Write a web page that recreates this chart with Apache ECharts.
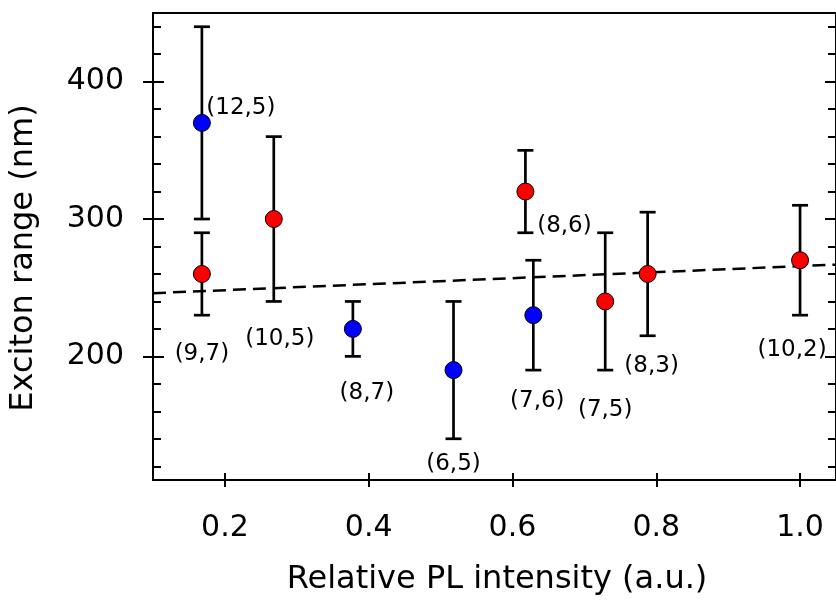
<!DOCTYPE html>
<html>
<head>
<meta charset="utf-8">
<script src="https://cdn.jsdelivr.net/npm/echarts@6/dist/echarts.min.js"></script>
<style>
html,body{margin:0;padding:0;background:#fff;}
#chart{width:836px;height:601px;}
</style>
</head>
<body>
<div id="chart"></div>
<script>
// ---- data ----
const chirality = ['(12,5)', '(9,7)', '(10,5)', '(8,7)', '(6,5)', '(7,6)', '(8,6)', '(7,5)', '(8,3)', '(10,2)'];
const plIntensity = [0.168, 0.168, 0.268, 0.378, 0.518, 0.629, 0.618, 0.729, 0.788, 1.0];
const excitonRange = [370, 260, 300, 220, 190, 230, 320, 240, 260, 270];
const rangeError = [70, 30, 60, 20, 50, 40, 30, 50, 45, 40];
const family = ['mod1', 'mod2', 'mod2', 'mod1', 'mod1', 'mod1', 'mod2', 'mod2', 'mod2', 'mod2'];
const fitX = [0.1, 1.05];
const fitY = [246, 266.8];
const xTickValues = [0.2, 0.4, 0.6, 0.8, 1.0];
const yMajorValues = [200, 300, 400];
const yMinorValues = [120, 140, 160, 180, 220, 240, 260, 280, 320, 340, 360, 380, 420, 440];

// ---- layout of point labels (pixel offsets from marker centre) ----
const labelDx = [39, 0, 6, 14, 0, 4, 39, 0, 4, -8];
const labelDy = [-15, 80, 120, 64, 94, 86, 34, 109, 92, 90];

const FONT = 'DejaVu Sans';
const XMIN = 0.1, XMAX = 1.05, YMIN = 110, YMAX = 450;
const familyColor = { mod1: '#0000ff', mod2: '#ff0000' };

function pointsFor(fam) {
  const out = [];
  for (let i = 0; i < chirality.length; i++) {
    if (family[i] !== fam) continue;
    out.push({
      value: [plIntensity[i], excitonRange[i]],
      name: chirality[i],
      label: {
        show: true, position: 'inside', offset: [labelDx[i], labelDy[i]],
        formatter: chirality[i],
        fontSize: 23, fontFamily: FONT, color: '#000', align: 'center', verticalAlign: 'middle'
      }
    });
  }
  return out;
}

const errData = chirality.map((c, i) => [plIntensity[i], excitonRange[i] - rangeError[i], excitonRange[i] + rangeError[i]]);

const lineW = 2;
function xAx(extra) {
  return Object.assign({
    type: 'value', min: XMIN, max: XMAX, gridIndex: 0,
    splitLine: { show: false },
    axisLine: { show: true, onZero: false, lineStyle: { color: '#000', width: lineW } },
    axisTick: { show: false },
    axisLabel: { show: false }
  }, extra);
}
function yAx(extra) {
  return Object.assign({
    type: 'value', min: YMIN, max: YMAX, gridIndex: 0,
    splitLine: { show: false },
    axisLine: { show: true, onZero: false, lineStyle: { color: '#000', width: lineW } },
    axisTick: { show: false },
    axisLabel: { show: false }
  }, extra);
}

const option = {
  animation: false,
  backgroundColor: '#fff',
  grid: { left: 153, top: 13, right: -4, bottom: 115, containLabel: false },
  xAxis: [
    xAx({
      position: 'bottom',
      axisTick: { show: true, inside: false, length: 7, customValues: xTickValues, lineStyle: { color: '#000', width: 2 } },
      axisLabel: { show: true, customValues: xTickValues, margin: 33, fontSize: 30, fontFamily: FONT, color: '#000',
        formatter: v => Number(v).toFixed(1) },
      name: 'Relative PL intensity (a.u.)',
      nameLocation: 'middle',
      nameGap: 84,
      nameTextStyle: { fontSize: 32, fontFamily: FONT, color: '#000', padding: [0, 0, 0, 5] }
    }),
    xAx({
      position: 'bottom',
      axisTick: { show: true, inside: true, length: 7, customValues: xTickValues, lineStyle: { color: '#000', width: 2 } }
    }),
    xAx({ position: 'top' })
  ],
  yAxis: [
    yAx({
      position: 'left',
      axisTick: { show: true, inside: false, length: 10, customValues: yMajorValues, lineStyle: { color: '#000', width: 2 } },
      axisLabel: { show: true, customValues: yMajorValues, margin: 29, fontSize: 30, fontFamily: FONT, color: '#000',
        padding: [4, 0, 0, 0] },
      name: 'Exciton range (nm)',
      nameLocation: 'middle',
      nameGap: 113,
      nameTextStyle: { fontSize: 32, fontFamily: FONT, color: '#000', padding: [0, 23, 0, 0] }
    }),
    yAx({
      position: 'left',
      axisTick: { show: true, inside: true, length: 11, customValues: yMajorValues, lineStyle: { color: '#000', width: 2 } }
    }),
    yAx({
      position: 'left',
      axisTick: { show: true, inside: true, length: 8, customValues: yMinorValues, lineStyle: { color: '#000', width: 2 } }
    }),
    yAx({
      position: 'right',
      axisTick: { show: true, inside: true, length: 11, customValues: yMajorValues, lineStyle: { color: '#000', width: 2 } }
    }),
    yAx({
      position: 'right',
      axisTick: { show: true, inside: true, length: 8, customValues: yMinorValues, lineStyle: { color: '#000', width: 2 } }
    })
  ],
  series: [
    {
      type: 'line',
      xAxisIndex: 0, yAxisIndex: 0,
      data: fitX.map((x, i) => [x, fitY[i]]),
      symbol: 'none',
      lineStyle: { color: '#000', width: 2.5, type: [13, 7] },
      silent: true,
      z: 1
    },
    {
      type: 'custom',
      xAxisIndex: 0, yAxisIndex: 0,
      data: errData,
      z: 2,
      renderItem: function (params, api) {
        const x = api.value(0);
        const lo = api.coord([x, api.value(1)]);
        const hi = api.coord([x, api.value(2)]);
        const hw = 8;
        const st = { stroke: '#000', lineWidth: 2.7 };
        return {
          type: 'group',
          children: [
            { type: 'line', shape: { x1: hi[0], y1: hi[1], x2: lo[0], y2: lo[1] }, style: st },
            { type: 'line', shape: { x1: hi[0] - hw, y1: hi[1], x2: hi[0] + hw, y2: hi[1] }, style: st },
            { type: 'line', shape: { x1: lo[0] - hw, y1: lo[1], x2: lo[0] + hw, y2: lo[1] }, style: st }
          ]
        };
      }
    },
    ...['mod1', 'mod2'].map(fam => ({
      type: 'scatter',
      xAxisIndex: 0, yAxisIndex: 0,
      data: pointsFor(fam),
      symbol: 'circle',
      symbolSize: 17,
      z: 3,
      itemStyle: { color: familyColor[fam], borderColor: '#000', borderWidth: 1, opacity: 1 },
      label: {
        show: true, position: 'inside',
        fontSize: 23, fontFamily: FONT, color: '#000', align: 'center', verticalAlign: 'middle'
      }
    }))
  ]
};

const chart = echarts.init(document.getElementById('chart'), null, { renderer: 'canvas' });
chart.setOption(option);
</script>
</body>
</html>
